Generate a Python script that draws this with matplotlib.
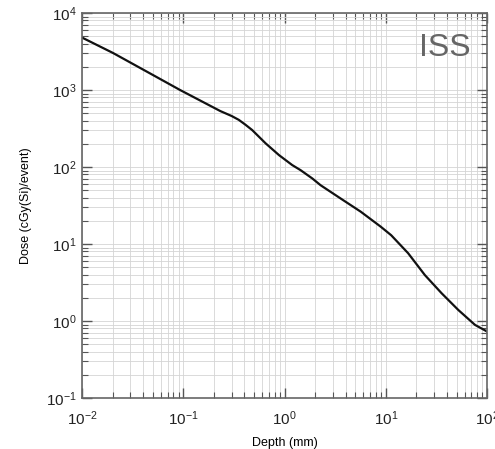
import matplotlib
matplotlib.use("Agg")
import matplotlib.pyplot as plt
from matplotlib.ticker import LogLocator, NullFormatter, FixedLocator

plt.rcParams["font.family"] = ["Liberation Sans", "DejaVu Sans"]
plt.rcParams["mathtext.fontset"] = "custom"
plt.rcParams["mathtext.rm"] = "Liberation Sans"
plt.rcParams["mathtext.it"] = "Liberation Sans"
plt.rcParams["mathtext.bf"] = "Liberation Sans:bold"

# depth-dose curve
depth_mm = [0.01, 0.0203, 0.05, 0.093, 0.232, 0.3, 0.353, 0.41, 0.479, 0.65, 0.88,
            1.19, 1.44, 1.88, 2.27, 3.58, 5.65, 8.9, 11.3, 16.6, 24.3,
            35.6, 52, 76, 100]
dose = [4800, 3020, 1570, 1000, 533, 460, 410, 355, 302, 203, 143,
        106, 91, 71, 58, 39, 26.3, 16.8, 13, 7.6, 3.95,
        2.29, 1.39, 0.89, 0.73]

x_major = [1e-2, 1e-1, 1e0, 1e1, 1e2]
x_labels = ["$10^{-2}$", "$10^{-1}$", "$10^{0}$", "$10^{1}$", "$10^{2}$"]
y_major = [1e-1, 1e0, 1e1, 1e2, 1e3, 1e4]
y_labels = ["$10^{-1}$", "$10^{0}$", "$10^{1}$", "$10^{2}$", "$10^{3}$", "$10^{4}$"]

fig = plt.figure(figsize=(4.95, 4.49), dpi=100)
ax = fig.add_axes([0.1657, 0.1136, 0.8183, 0.8574])

ax.plot(depth_mm, dose, color="#111111", lw=1.6)

ax.set_xscale("log")
ax.set_yscale("log")
ax.set_xlim(1e-2, 1e2)
ax.set_ylim(1e-1, 1e4)

ax.xaxis.set_major_locator(FixedLocator(x_major))
ax.yaxis.set_major_locator(FixedLocator(y_major))
ax.set_xticklabels(x_labels)
ax.set_yticklabels(y_labels)
ax.xaxis.set_minor_locator(LogLocator(base=10, subs=range(2, 10), numticks=20))
ax.yaxis.set_minor_locator(LogLocator(base=10, subs=range(2, 10), numticks=20))
ax.xaxis.set_minor_formatter(NullFormatter())
ax.yaxis.set_minor_formatter(NullFormatter())

ax.grid(True, which="both", color="#d4d4d4", lw=0.6)
ax.set_axisbelow(True)

ax.tick_params(which="both", direction="in", top=True, right=True,
               color="#555555", labelsize=11, labelcolor="#222222")
ax.tick_params(which="major", length=7, width=1.0)
ax.tick_params(which="minor", length=4, width=0.8)
ax.tick_params(axis="x", which="major", pad=8)
ax.tick_params(axis="y", which="major", pad=4)
for s in ax.spines.values():
    s.set_color("#666666")
    s.set_linewidth(1.2)

ax.set_xlabel("Depth (mm)", fontsize=9)
ax.set_ylabel("Dose (cGy(Si)/event)", fontsize=9)
ax.xaxis.set_label_coords(0.5, -0.101)
ax.yaxis.set_label_coords(-0.123, 0.5)

ax.text(0.96, 0.908, "ISS", transform=ax.transAxes, ha="right", va="center",
        fontsize=23, color="#666666")

fig.savefig("out.png", dpi=100)
